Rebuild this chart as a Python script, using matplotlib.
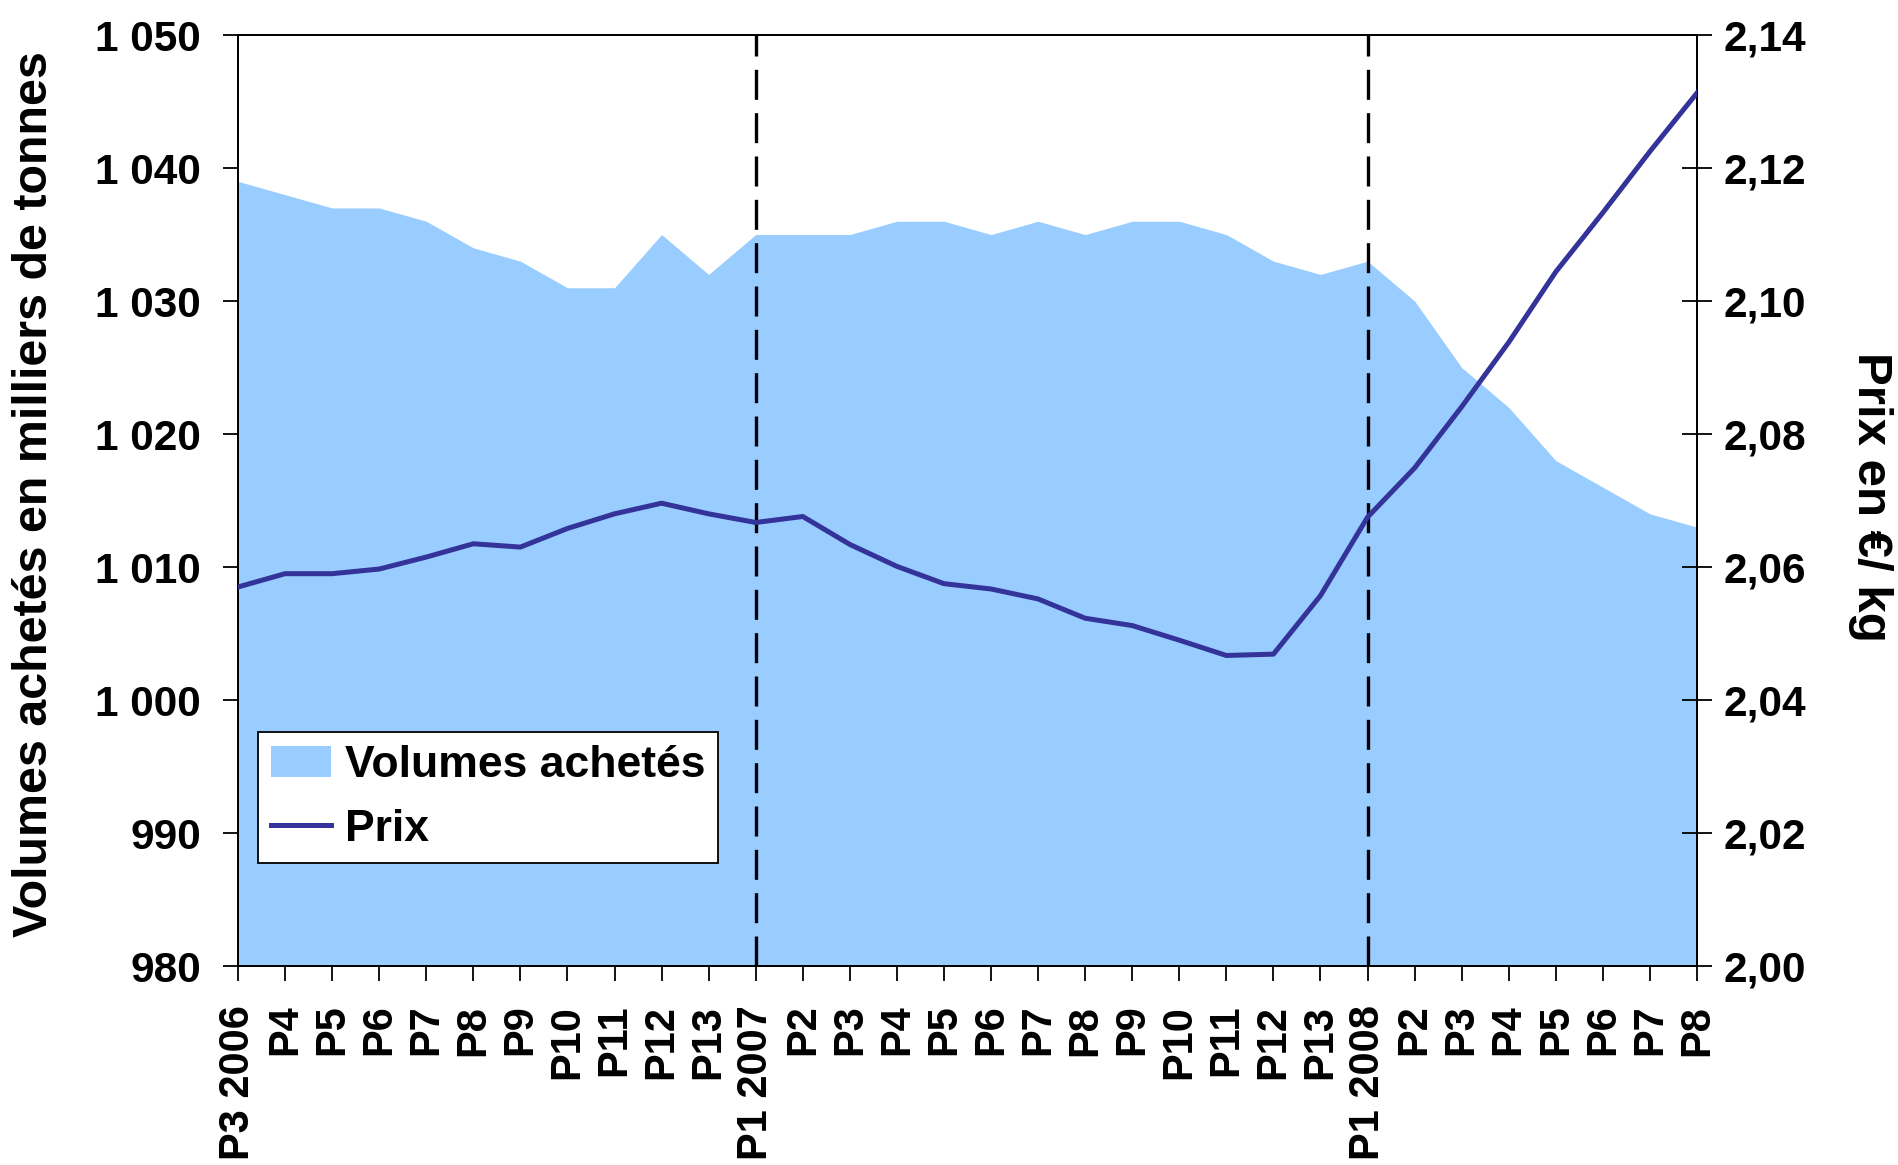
import matplotlib

matplotlib.use("Agg")
import matplotlib.pyplot as plt  # noqa: E402
from matplotlib.ticker import FixedLocator, FuncFormatter  # noqa: E402

periods = [
    "P3 2006", "P4", "P5", "P6", "P7", "P8", "P9", "P10", "P11", "P12", "P13",
    "P1 2007", "P2", "P3", "P4", "P5", "P6", "P7", "P8", "P9", "P10", "P11", "P12", "P13",
    "P1 2008", "P2", "P3", "P4", "P5", "P6", "P7", "P8",
]
volumes = [
    1039, 1038, 1037, 1037, 1036, 1034, 1033, 1031, 1031, 1035, 1032,
    1035, 1035, 1035, 1036, 1036, 1035, 1036, 1035, 1036, 1036, 1035, 1033, 1032,
    1033, 1030, 1025, 1022, 1018, 1016, 1014, 1013,
]
prix = [
    2.057, 2.059, 2.059, 2.0597, 2.0615, 2.0635, 2.063, 2.0658, 2.068, 2.0696, 2.068,
    2.0667, 2.0676, 2.0634, 2.0601, 2.0575, 2.0567, 2.0552, 2.0523, 2.0512, 2.049, 2.0467, 2.0469, 2.0557,
    2.0675, 2.0749, 2.0841, 2.0938, 2.1044, 2.1133, 2.1225, 2.1313,
]
year_marks = ["P1 2007", "P1 2008"]

plt.rcParams["font.family"] = ["Liberation Sans", "DejaVu Sans"]
plt.rcParams["font.weight"] = "bold"

AREA = "#99ccff"
LINE = "#333399"

fig = plt.figure(figsize=(18.98, 11.65), dpi=100)
ax = fig.add_axes([0.1254, 0.1708, 0.7687, 0.7991])
x = list(range(len(periods)))

area = ax.fill_between(x, 980, volumes, color=AREA, linewidth=0, label="Volumes achetés")
for label in year_marks:
    ax.axvline(periods.index(label), color="black", linewidth=2.4,
               linestyle=(0, (9.0, 4.0)), zorder=3)

ax.set_xlim(0, len(periods) - 1)
ax.set_ylim(980, 1050)
ax.set_yticks(range(980, 1051, 10))
ax.yaxis.set_major_formatter(FuncFormatter(lambda v, _: f"{int(v):,}".replace(",", " ")))
ax.xaxis.set_major_locator(FixedLocator(x))
ax.set_xticklabels(periods, rotation=90, fontsize=30, fontweight="bold")
ax.tick_params(axis="x", direction="out", length=10.8, width=1.3, pad=17)
ax.tick_params(axis="y", direction="out", length=10.8, width=1.3, pad=16, labelsize=30.5)
for spine in ax.spines.values():
    spine.set_linewidth(1.3)

ax2 = ax.twinx()
(line,) = ax2.plot(x, prix, color=LINE, linewidth=3.6, label="Prix", zorder=4)
ax2.set_ylim(2.00, 2.14)
ax2.set_yticks([2.00, 2.02, 2.04, 2.06, 2.08, 2.10, 2.12, 2.14])
ax2.yaxis.set_major_formatter(FuncFormatter(lambda v, _: f"{v:.2f}".replace(".", ",")))
ax2.tick_params(axis="y", direction="inout", length=21.6, width=1.3, pad=8, labelsize=30.5)
for spine in ax2.spines.values():
    spine.set_linewidth(1.3)

fig.text(35 / 1898, 1 - 494 / 1165, "Volumes achetés en milliers de tonnes",
         rotation=90, ha="center", va="center", fontsize=34.8, fontweight="bold")
fig.text(1870 / 1898, 1 - 497 / 1165, "Prix en €/ kg",
         rotation=-90, ha="center", va="center", fontsize=35.5, fontweight="bold")

leg = ax2.legend(
    [area, line], ["Volumes achetés", "Prix"],
    loc="upper left", bbox_to_anchor=(258 / 1898, 1 - 732 / 1165),
    bbox_transform=fig.transFigure, fontsize=32, frameon=True, fancybox=False,
    edgecolor="black", framealpha=1, handlelength=1.35, handletextpad=0.3,
    labelspacing=0.5, borderpad=0.3, borderaxespad=0,
)
leg.get_frame().set_linewidth(1.3)
for text in leg.get_texts():
    text.set_fontweight("bold")

fig.savefig("out.png", dpi=100)
